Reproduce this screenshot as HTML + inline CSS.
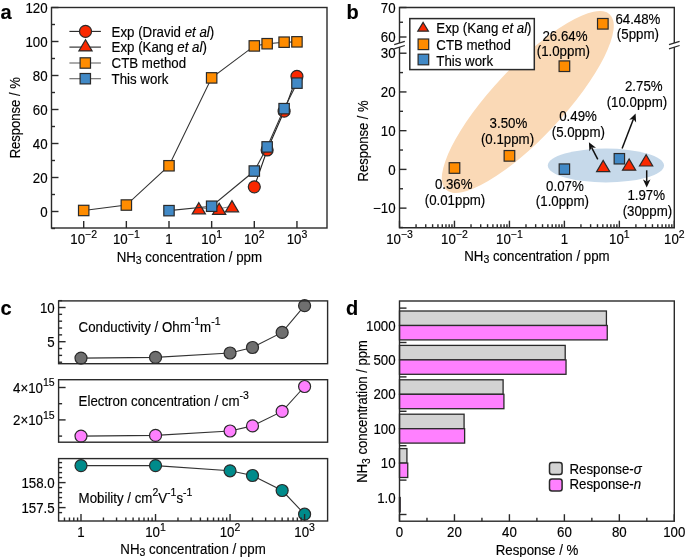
<!DOCTYPE html>
<html><head><meta charset="utf-8"><style>
html,body{margin:0;padding:0;background:#fff;}
svg{display:block;will-change:transform;}
text{font-family:"Liberation Sans",sans-serif;fill:#000;stroke:#000;stroke-width:0.15px;}
</style></head><body>
<svg width="685" height="557" viewBox="0 0 685 557">
<rect width="685" height="557" fill="#fff"/>
<text transform="translate(0.50 18.50) scale(1 1.04)" font-size="20" text-anchor="start" font-weight="bold">a</text>
<line x1="51.50" y1="228.50" x2="55.00" y2="228.50" stroke="#2a2a2a" stroke-width="1.4" />
<line x1="51.50" y1="211.50" x2="58.50" y2="211.50" stroke="#2a2a2a" stroke-width="1.4" />
<text transform="translate(47.60 216.60) scale(1 1.04)" font-size="13.3" text-anchor="end" >0</text>
<line x1="51.50" y1="194.50" x2="55.00" y2="194.50" stroke="#2a2a2a" stroke-width="1.4" />
<line x1="51.50" y1="177.50" x2="58.50" y2="177.50" stroke="#2a2a2a" stroke-width="1.4" />
<text transform="translate(47.60 182.60) scale(1 1.04)" font-size="13.3" text-anchor="end" >20</text>
<line x1="51.50" y1="160.50" x2="55.00" y2="160.50" stroke="#2a2a2a" stroke-width="1.4" />
<line x1="51.50" y1="143.50" x2="58.50" y2="143.50" stroke="#2a2a2a" stroke-width="1.4" />
<text transform="translate(47.60 148.60) scale(1 1.04)" font-size="13.3" text-anchor="end" >40</text>
<line x1="51.50" y1="126.50" x2="55.00" y2="126.50" stroke="#2a2a2a" stroke-width="1.4" />
<line x1="51.50" y1="109.50" x2="58.50" y2="109.50" stroke="#2a2a2a" stroke-width="1.4" />
<text transform="translate(47.60 114.60) scale(1 1.04)" font-size="13.3" text-anchor="end" >60</text>
<line x1="51.50" y1="92.50" x2="55.00" y2="92.50" stroke="#2a2a2a" stroke-width="1.4" />
<line x1="51.50" y1="75.50" x2="58.50" y2="75.50" stroke="#2a2a2a" stroke-width="1.4" />
<text transform="translate(47.60 80.60) scale(1 1.04)" font-size="13.3" text-anchor="end" >80</text>
<line x1="51.50" y1="58.50" x2="55.00" y2="58.50" stroke="#2a2a2a" stroke-width="1.4" />
<line x1="51.50" y1="41.50" x2="58.50" y2="41.50" stroke="#2a2a2a" stroke-width="1.4" />
<text transform="translate(47.60 46.60) scale(1 1.04)" font-size="13.3" text-anchor="end" >100</text>
<line x1="51.50" y1="24.50" x2="55.00" y2="24.50" stroke="#2a2a2a" stroke-width="1.4" />
<line x1="51.50" y1="7.50" x2="58.50" y2="7.50" stroke="#2a2a2a" stroke-width="1.4" />
<text transform="translate(47.60 12.60) scale(1 1.04)" font-size="13.3" text-anchor="end" >120</text>
<text transform="translate(0.00 0.50) scale(1 1.04)" font-size="13.3" text-anchor="start" ></text>
<line x1="83.70" y1="228.00" x2="83.70" y2="221.00" stroke="#2a2a2a" stroke-width="1.4" />
<text transform="translate(70.32 244.30) scale(1 1.04)" font-size="13.3" text-anchor="start" >10</text>
<text transform="translate(85.11 238.00) scale(1 1.04)" font-size="10.5" text-anchor="start" >−2</text>
<line x1="126.35" y1="228.00" x2="126.35" y2="221.00" stroke="#2a2a2a" stroke-width="1.4" />
<text transform="translate(112.97 244.30) scale(1 1.04)" font-size="13.3" text-anchor="start" >10</text>
<text transform="translate(127.76 238.00) scale(1 1.04)" font-size="10.5" text-anchor="start" >−1</text>
<line x1="169.00" y1="228.00" x2="169.00" y2="221.00" stroke="#2a2a2a" stroke-width="1.4" />
<text transform="translate(169.00 244.30) scale(1 1.04)" font-size="13.3" text-anchor="middle" >1</text>
<line x1="211.65" y1="228.00" x2="211.65" y2="221.00" stroke="#2a2a2a" stroke-width="1.4" />
<text transform="translate(201.33 244.30) scale(1 1.04)" font-size="13.3" text-anchor="start" >10</text>
<text transform="translate(216.13 238.00) scale(1 1.04)" font-size="10.5" text-anchor="start" >1</text>
<line x1="254.30" y1="228.00" x2="254.30" y2="221.00" stroke="#2a2a2a" stroke-width="1.4" />
<text transform="translate(243.98 244.30) scale(1 1.04)" font-size="13.3" text-anchor="start" >10</text>
<text transform="translate(258.78 238.00) scale(1 1.04)" font-size="10.5" text-anchor="start" >2</text>
<line x1="296.95" y1="228.00" x2="296.95" y2="221.00" stroke="#2a2a2a" stroke-width="1.4" />
<text transform="translate(286.63 244.30) scale(1 1.04)" font-size="13.3" text-anchor="start" >10</text>
<text transform="translate(301.43 238.00) scale(1 1.04)" font-size="10.5" text-anchor="start" >3</text>
<text transform="translate(19.9,117.8) rotate(-90) scale(0.98 1.04)" font-size="13.3" text-anchor="middle">Response / %</text>
<text transform="translate(116.63 261.50) scale(1 1.04)" font-size="13.3" text-anchor="start" >NH</text>
<text transform="translate(135.84 263.70) scale(1 1.04)" font-size="10.5" text-anchor="start" >3</text>
<text transform="translate(141.68 261.50) scale(1 1.04)" font-size="13.3" text-anchor="start" xml:space="preserve"> concentration / ppm</text>
<g>
<polyline points="254.30,186.85 267.14,149.96 284.11,111.20 296.95,76.35" fill="none" stroke="#222" stroke-width="1.1"/>
<circle cx="254.30" cy="186.85" r="6.00" fill="#fa2800" stroke="#2a2a2a" stroke-width="1.2"/>
<circle cx="267.14" cy="149.96" r="6.00" fill="#fa2800" stroke="#2a2a2a" stroke-width="1.2"/>
<circle cx="284.11" cy="111.20" r="6.00" fill="#fa2800" stroke="#2a2a2a" stroke-width="1.2"/>
<circle cx="296.95" cy="76.35" r="6.00" fill="#fa2800" stroke="#2a2a2a" stroke-width="1.2"/>
<polyline points="198.81,208.27 219.16,208.78 232.00,206.23" fill="none" stroke="#888" stroke-width="1.1"/>
<polygon points="198.81,202.67 192.21,213.87 205.41,213.87" fill="#fa2800" stroke="#2a2a2a" stroke-width="1.2" stroke-linejoin="miter"/>
<polygon points="219.16,203.18 212.56,214.38 225.76,214.38" fill="#fa2800" stroke="#2a2a2a" stroke-width="1.2" stroke-linejoin="miter"/>
<polygon points="232.00,200.63 225.40,211.83 238.60,211.83" fill="#fa2800" stroke="#2a2a2a" stroke-width="1.2" stroke-linejoin="miter"/>
<polyline points="83.70,210.48 126.35,205.04 169.00,165.77 211.65,77.88 254.30,45.92 267.14,43.71 284.11,42.18 296.95,41.84" fill="none" stroke="#333" stroke-width="1.1"/>
<rect x="78.50" y="205.28" width="10.40" height="10.40" fill="#ff8c00" stroke="#2a2a2a" stroke-width="1.2" />
<rect x="121.15" y="199.84" width="10.40" height="10.40" fill="#ff8c00" stroke="#2a2a2a" stroke-width="1.2" />
<rect x="163.80" y="160.57" width="10.40" height="10.40" fill="#ff8c00" stroke="#2a2a2a" stroke-width="1.2" />
<rect x="206.45" y="72.68" width="10.40" height="10.40" fill="#ff8c00" stroke="#2a2a2a" stroke-width="1.2" />
<rect x="249.10" y="40.72" width="10.40" height="10.40" fill="#ff8c00" stroke="#2a2a2a" stroke-width="1.2" />
<rect x="261.94" y="38.51" width="10.40" height="10.40" fill="#ff8c00" stroke="#2a2a2a" stroke-width="1.2" />
<rect x="278.91" y="36.98" width="10.40" height="10.40" fill="#ff8c00" stroke="#2a2a2a" stroke-width="1.2" />
<rect x="291.75" y="36.64" width="10.40" height="10.40" fill="#ff8c00" stroke="#2a2a2a" stroke-width="1.2" />
<polyline points="169.00,210.65 211.65,206.23 254.30,171.04 267.14,146.90 284.11,108.65 296.95,83.15" fill="none" stroke="#333" stroke-width="1.1"/>
<rect x="163.80" y="205.45" width="10.40" height="10.40" fill="#4189c6" stroke="#2a2a2a" stroke-width="1.2" />
<rect x="206.45" y="201.03" width="10.40" height="10.40" fill="#4189c6" stroke="#2a2a2a" stroke-width="1.2" />
<rect x="249.10" y="165.84" width="10.40" height="10.40" fill="#4189c6" stroke="#2a2a2a" stroke-width="1.2" />
<rect x="261.94" y="141.70" width="10.40" height="10.40" fill="#4189c6" stroke="#2a2a2a" stroke-width="1.2" />
<rect x="278.91" y="103.45" width="10.40" height="10.40" fill="#4189c6" stroke="#2a2a2a" stroke-width="1.2" />
<rect x="291.75" y="77.95" width="10.40" height="10.40" fill="#4189c6" stroke="#2a2a2a" stroke-width="1.2" />
</g>
<line x1="69.40" y1="31.40" x2="100.90" y2="31.40" stroke="#222" stroke-width="1.1" />
<circle cx="85.50" cy="31.40" r="6.00" fill="#fa2800" stroke="#2a2a2a" stroke-width="1.2"/>
<line x1="69.40" y1="47.10" x2="100.90" y2="47.10" stroke="#222" stroke-width="1.1" />
<polygon points="85.50,39.70 78.90,50.90 92.10,50.90" fill="#fa2800" stroke="#2a2a2a" stroke-width="1.2" stroke-linejoin="miter"/>
<line x1="69.40" y1="63.00" x2="100.90" y2="63.00" stroke="#666" stroke-width="1.1" />
<rect x="80.10" y="57.80" width="10.40" height="10.40" fill="#ff8c00" stroke="#2a2a2a" stroke-width="1.2" />
<line x1="69.40" y1="78.70" x2="100.90" y2="78.70" stroke="#666" stroke-width="1.1" />
<rect x="80.10" y="73.50" width="10.40" height="10.40" fill="#4189c6" stroke="#2a2a2a" stroke-width="1.2" />
<text transform="translate(111.60 36.60) scale(1 1.04)" font-size="13.3" >Exp (Dravid <tspan font-style="italic">et al</tspan>)</text>
<text transform="translate(111.60 52.30) scale(1 1.04)" font-size="13.3" >Exp (Kang <tspan font-style="italic">et al</tspan>)</text>
<text transform="translate(111.60 68.20) scale(1 1.04)" font-size="13.3" >CTB method</text>
<text transform="translate(111.60 83.90) scale(1 1.04)" font-size="13.3" >This work</text>
<rect x="51.50" y="7.50" width="275.50" height="220.50" fill="none" stroke="#2a2a2a" stroke-width="1.4" />
<text transform="translate(346.50 18.50) scale(1 1.04)" font-size="20" text-anchor="start" font-weight="bold">b</text>
<ellipse cx="527.8" cy="102.0" rx="120.0" ry="35.5" transform="rotate(-46.9 527.8 102.0)" fill="#fad9b6"/>
<ellipse cx="605.9" cy="165.5" rx="58.1" ry="16.9" fill="#c6d9ea"/>
<line x1="399.50" y1="227.50" x2="403.00" y2="227.50" stroke="#2a2a2a" stroke-width="1.4" />
<line x1="399.50" y1="208.13" x2="406.50" y2="208.13" stroke="#2a2a2a" stroke-width="1.4" />
<text transform="translate(395.60 213.23) scale(1 1.04)" font-size="13.3" text-anchor="end" >−10</text>
<line x1="399.50" y1="188.77" x2="403.00" y2="188.77" stroke="#2a2a2a" stroke-width="1.4" />
<line x1="399.50" y1="169.40" x2="406.50" y2="169.40" stroke="#2a2a2a" stroke-width="1.4" />
<text transform="translate(395.60 174.50) scale(1 1.04)" font-size="13.3" text-anchor="end" >0</text>
<line x1="399.50" y1="150.03" x2="403.00" y2="150.03" stroke="#2a2a2a" stroke-width="1.4" />
<line x1="399.50" y1="130.67" x2="406.50" y2="130.67" stroke="#2a2a2a" stroke-width="1.4" />
<text transform="translate(395.60 135.77) scale(1 1.04)" font-size="13.3" text-anchor="end" >10</text>
<line x1="399.50" y1="111.31" x2="403.00" y2="111.31" stroke="#2a2a2a" stroke-width="1.4" />
<line x1="399.50" y1="91.94" x2="406.50" y2="91.94" stroke="#2a2a2a" stroke-width="1.4" />
<text transform="translate(395.60 97.04) scale(1 1.04)" font-size="13.3" text-anchor="end" >20</text>
<line x1="399.50" y1="72.58" x2="403.00" y2="72.58" stroke="#2a2a2a" stroke-width="1.4" />
<line x1="399.50" y1="53.21" x2="406.50" y2="53.21" stroke="#2a2a2a" stroke-width="1.4" />
<text transform="translate(395.60 58.31) scale(1 1.04)" font-size="13.3" text-anchor="end" >30</text>
<line x1="399.50" y1="37.00" x2="406.50" y2="37.00" stroke="#2a2a2a" stroke-width="1.4" />
<text transform="translate(395.60 42.10) scale(1 1.04)" font-size="13.3" text-anchor="end" >60</text>
<line x1="399.50" y1="22.25" x2="403.00" y2="22.25" stroke="#2a2a2a" stroke-width="1.4" />
<line x1="399.50" y1="7.50" x2="406.50" y2="7.50" stroke="#2a2a2a" stroke-width="1.4" />
<text transform="translate(395.60 12.60) scale(1 1.04)" font-size="13.3" text-anchor="end" >70</text>
<line x1="399.52" y1="227.70" x2="399.52" y2="220.70" stroke="#2a2a2a" stroke-width="1.4" />
<text transform="translate(386.14 244.30) scale(1 1.04)" font-size="13.3" text-anchor="start" >10</text>
<text transform="translate(400.93 238.00) scale(1 1.04)" font-size="10.5" text-anchor="start" >−3</text>
<line x1="416.06" y1="227.70" x2="416.06" y2="224.20" stroke="#2a2a2a" stroke-width="1.4" />
<line x1="425.74" y1="227.70" x2="425.74" y2="224.20" stroke="#2a2a2a" stroke-width="1.4" />
<line x1="432.61" y1="227.70" x2="432.61" y2="224.20" stroke="#2a2a2a" stroke-width="1.4" />
<line x1="437.94" y1="227.70" x2="437.94" y2="224.20" stroke="#2a2a2a" stroke-width="1.4" />
<line x1="442.29" y1="227.70" x2="442.29" y2="224.20" stroke="#2a2a2a" stroke-width="1.4" />
<line x1="445.97" y1="227.70" x2="445.97" y2="224.20" stroke="#2a2a2a" stroke-width="1.4" />
<line x1="449.15" y1="227.70" x2="449.15" y2="224.20" stroke="#2a2a2a" stroke-width="1.4" />
<line x1="451.97" y1="227.70" x2="451.97" y2="224.20" stroke="#2a2a2a" stroke-width="1.4" />
<line x1="454.48" y1="227.70" x2="454.48" y2="220.70" stroke="#2a2a2a" stroke-width="1.4" />
<text transform="translate(441.10 244.30) scale(1 1.04)" font-size="13.3" text-anchor="start" >10</text>
<text transform="translate(455.89 238.00) scale(1 1.04)" font-size="10.5" text-anchor="start" >−2</text>
<line x1="471.02" y1="227.70" x2="471.02" y2="224.20" stroke="#2a2a2a" stroke-width="1.4" />
<line x1="480.70" y1="227.70" x2="480.70" y2="224.20" stroke="#2a2a2a" stroke-width="1.4" />
<line x1="487.57" y1="227.70" x2="487.57" y2="224.20" stroke="#2a2a2a" stroke-width="1.4" />
<line x1="492.90" y1="227.70" x2="492.90" y2="224.20" stroke="#2a2a2a" stroke-width="1.4" />
<line x1="497.25" y1="227.70" x2="497.25" y2="224.20" stroke="#2a2a2a" stroke-width="1.4" />
<line x1="500.93" y1="227.70" x2="500.93" y2="224.20" stroke="#2a2a2a" stroke-width="1.4" />
<line x1="504.11" y1="227.70" x2="504.11" y2="224.20" stroke="#2a2a2a" stroke-width="1.4" />
<line x1="506.93" y1="227.70" x2="506.93" y2="224.20" stroke="#2a2a2a" stroke-width="1.4" />
<line x1="509.44" y1="227.70" x2="509.44" y2="220.70" stroke="#2a2a2a" stroke-width="1.4" />
<text transform="translate(496.06 244.30) scale(1 1.04)" font-size="13.3" text-anchor="start" >10</text>
<text transform="translate(510.85 238.00) scale(1 1.04)" font-size="10.5" text-anchor="start" >−1</text>
<line x1="525.98" y1="227.70" x2="525.98" y2="224.20" stroke="#2a2a2a" stroke-width="1.4" />
<line x1="535.66" y1="227.70" x2="535.66" y2="224.20" stroke="#2a2a2a" stroke-width="1.4" />
<line x1="542.53" y1="227.70" x2="542.53" y2="224.20" stroke="#2a2a2a" stroke-width="1.4" />
<line x1="547.86" y1="227.70" x2="547.86" y2="224.20" stroke="#2a2a2a" stroke-width="1.4" />
<line x1="552.21" y1="227.70" x2="552.21" y2="224.20" stroke="#2a2a2a" stroke-width="1.4" />
<line x1="555.89" y1="227.70" x2="555.89" y2="224.20" stroke="#2a2a2a" stroke-width="1.4" />
<line x1="559.07" y1="227.70" x2="559.07" y2="224.20" stroke="#2a2a2a" stroke-width="1.4" />
<line x1="561.89" y1="227.70" x2="561.89" y2="224.20" stroke="#2a2a2a" stroke-width="1.4" />
<line x1="564.40" y1="227.70" x2="564.40" y2="220.70" stroke="#2a2a2a" stroke-width="1.4" />
<text transform="translate(564.40 244.30) scale(1 1.04)" font-size="13.3" text-anchor="middle" >1</text>
<line x1="580.94" y1="227.70" x2="580.94" y2="224.20" stroke="#2a2a2a" stroke-width="1.4" />
<line x1="590.62" y1="227.70" x2="590.62" y2="224.20" stroke="#2a2a2a" stroke-width="1.4" />
<line x1="597.49" y1="227.70" x2="597.49" y2="224.20" stroke="#2a2a2a" stroke-width="1.4" />
<line x1="602.82" y1="227.70" x2="602.82" y2="224.20" stroke="#2a2a2a" stroke-width="1.4" />
<line x1="607.17" y1="227.70" x2="607.17" y2="224.20" stroke="#2a2a2a" stroke-width="1.4" />
<line x1="610.85" y1="227.70" x2="610.85" y2="224.20" stroke="#2a2a2a" stroke-width="1.4" />
<line x1="614.03" y1="227.70" x2="614.03" y2="224.20" stroke="#2a2a2a" stroke-width="1.4" />
<line x1="616.85" y1="227.70" x2="616.85" y2="224.20" stroke="#2a2a2a" stroke-width="1.4" />
<line x1="619.36" y1="227.70" x2="619.36" y2="220.70" stroke="#2a2a2a" stroke-width="1.4" />
<text transform="translate(609.04 244.30) scale(1 1.04)" font-size="13.3" text-anchor="start" >10</text>
<text transform="translate(623.84 238.00) scale(1 1.04)" font-size="10.5" text-anchor="start" >1</text>
<line x1="635.90" y1="227.70" x2="635.90" y2="224.20" stroke="#2a2a2a" stroke-width="1.4" />
<line x1="645.58" y1="227.70" x2="645.58" y2="224.20" stroke="#2a2a2a" stroke-width="1.4" />
<line x1="652.45" y1="227.70" x2="652.45" y2="224.20" stroke="#2a2a2a" stroke-width="1.4" />
<line x1="657.78" y1="227.70" x2="657.78" y2="224.20" stroke="#2a2a2a" stroke-width="1.4" />
<line x1="662.13" y1="227.70" x2="662.13" y2="224.20" stroke="#2a2a2a" stroke-width="1.4" />
<line x1="665.81" y1="227.70" x2="665.81" y2="224.20" stroke="#2a2a2a" stroke-width="1.4" />
<line x1="668.99" y1="227.70" x2="668.99" y2="224.20" stroke="#2a2a2a" stroke-width="1.4" />
<line x1="671.81" y1="227.70" x2="671.81" y2="224.20" stroke="#2a2a2a" stroke-width="1.4" />
<line x1="674.32" y1="227.70" x2="674.32" y2="220.70" stroke="#2a2a2a" stroke-width="1.4" />
<text transform="translate(664.00 244.30) scale(1 1.04)" font-size="13.3" text-anchor="start" >10</text>
<text transform="translate(678.80 238.00) scale(1 1.04)" font-size="10.5" text-anchor="start" >2</text>
<text transform="translate(368.2,140.9) rotate(-90) scale(0.98 1.04)" font-size="13.3" text-anchor="middle">Response / %</text>
<text transform="translate(464.23 261.10) scale(1 1.04)" font-size="13.3" text-anchor="start" >NH</text>
<text transform="translate(483.44 263.30) scale(1 1.04)" font-size="10.5" text-anchor="start" >3</text>
<text transform="translate(489.28 261.10) scale(1 1.04)" font-size="13.3" text-anchor="start" xml:space="preserve"> concentration / ppm</text>
<polyline points="399.5,43 399.5,7.5 674.3,7.5 674.3,43" fill="none" stroke="#2a2a2a" stroke-width="1.4"/>
<polyline points="399.5,47 399.5,227.7 674.3,227.7 674.3,47" fill="none" stroke="#2a2a2a" stroke-width="1.4"/>
<line x1="394.20" y1="44.60" x2="404.80" y2="41.30" stroke="#2a2a2a" stroke-width="1.3" />
<line x1="394.20" y1="48.80" x2="404.80" y2="45.50" stroke="#2a2a2a" stroke-width="1.3" />
<line x1="669.00" y1="44.60" x2="679.60" y2="41.30" stroke="#2a2a2a" stroke-width="1.3" />
<line x1="669.00" y1="48.80" x2="679.60" y2="45.50" stroke="#2a2a2a" stroke-width="1.3" />
<rect x="449.18" y="162.71" width="10.60" height="10.60" fill="#ff8c00" stroke="#2a2a2a" stroke-width="1.2" />
<rect x="504.14" y="150.54" width="10.60" height="10.60" fill="#ff8c00" stroke="#2a2a2a" stroke-width="1.2" />
<rect x="559.10" y="60.92" width="10.60" height="10.60" fill="#ff8c00" stroke="#2a2a2a" stroke-width="1.2" />
<rect x="597.52" y="18.48" width="10.60" height="10.60" fill="#ff8c00" stroke="#2a2a2a" stroke-width="1.2" />
<rect x="559.20" y="163.93" width="10.40" height="10.40" fill="#4189c6" stroke="#2a2a2a" stroke-width="1.2" />
<rect x="614.16" y="153.55" width="10.40" height="10.40" fill="#4189c6" stroke="#2a2a2a" stroke-width="1.2" />
<polygon points="603.20,160.40 596.60,171.60 609.80,171.60" fill="#fa2800" stroke="#2a2a2a" stroke-width="1.2" stroke-linejoin="miter"/>
<polygon points="629.10,159.00 622.50,170.20 635.70,170.20" fill="#fa2800" stroke="#2a2a2a" stroke-width="1.2" stroke-linejoin="miter"/>
<polygon points="646.10,154.80 639.50,166.00 652.70,166.00" fill="#fa2800" stroke="#2a2a2a" stroke-width="1.2" stroke-linejoin="miter"/>
<line x1="597.80" y1="159.30" x2="591.68" y2="147.62" stroke="#111" stroke-width="1.5" />
<polygon points="588.90,142.30 595.98,147.85 591.68,147.62 589.43,151.28" fill="#111"/>
<line x1="622.10" y1="148.50" x2="633.44" y2="119.10" stroke="#111" stroke-width="1.5" />
<polygon points="635.60,113.50 636.10,122.48 633.44,119.10 629.20,119.82" fill="#111"/>
<line x1="646.70" y1="170.30" x2="646.70" y2="181.60" stroke="#111" stroke-width="1.5" />
<polygon points="646.70,187.60 643.00,179.40 646.70,181.60 650.40,179.40" fill="#111"/>
<text transform="translate(637.90 24.20) scale(1 1.04)" font-size="13.3" text-anchor="middle" >64.48%</text>
<text transform="translate(637.90 39.20) scale(1 1.04)" font-size="13.3" text-anchor="middle" >(5ppm)</text>
<text transform="translate(565.00 41.30) scale(1 1.04)" font-size="13.3" text-anchor="middle" >26.64%</text>
<text transform="translate(563.30 55.80) scale(1 1.04)" font-size="13.3" text-anchor="middle" >(1.0ppm)</text>
<text transform="translate(643.80 91.30) scale(1 1.04)" font-size="13.3" text-anchor="middle" >2.75%</text>
<text transform="translate(636.90 107.20) scale(1 1.04)" font-size="13.3" text-anchor="middle" >(10.0ppm)</text>
<text transform="translate(578.00 121.30) scale(1 1.04)" font-size="13.3" text-anchor="middle" >0.49%</text>
<text transform="translate(578.30 136.80) scale(1 1.04)" font-size="13.3" text-anchor="middle" >(5.0ppm)</text>
<text transform="translate(508.40 127.50) scale(1 1.04)" font-size="13.3" text-anchor="middle" >3.50%</text>
<text transform="translate(507.50 143.50) scale(1 1.04)" font-size="13.3" text-anchor="middle" >(0.1ppm)</text>
<text transform="translate(453.70 189.40) scale(1 1.04)" font-size="13.3" text-anchor="middle" >0.36%</text>
<text transform="translate(455.00 205.40) scale(1 1.04)" font-size="13.3" text-anchor="middle" >(0.01ppm)</text>
<text transform="translate(564.90 191.20) scale(1 1.04)" font-size="13.3" text-anchor="middle" >0.07%</text>
<text transform="translate(562.40 206.20) scale(1 1.04)" font-size="13.3" text-anchor="middle" >(1.0ppm)</text>
<text transform="translate(646.20 200.20) scale(1 1.04)" font-size="13.3" text-anchor="middle" >1.97%</text>
<text transform="translate(647.40 215.50) scale(1 1.04)" font-size="13.3" text-anchor="middle" >(30ppm)</text>
<rect x="409.80" y="18.60" width="124.50" height="51.00" fill="#ffffff" stroke="#2a2a2a" stroke-width="1.5" />
<polygon points="423.10,22.40 417.80,31.20 428.40,31.20" fill="#fa2800" stroke="#2a2a2a" stroke-width="1.2" stroke-linejoin="miter"/>
<rect x="418.10" y="39.00" width="10.60" height="10.60" fill="#ff8c00" stroke="#2a2a2a" stroke-width="1.2" />
<rect x="418.10" y="54.20" width="10.60" height="10.60" fill="#4189c6" stroke="#2a2a2a" stroke-width="1.2" />
<text transform="translate(436.30 32.80) scale(1 1.04)" font-size="13.3" >Exp (Kang <tspan font-style="italic">et al</tspan>)</text>
<text transform="translate(436.30 49.50) scale(1 1.04)" font-size="13.3" >CTB method</text>
<text transform="translate(436.30 65.60) scale(1 1.04)" font-size="13.3" >This work</text>
<text transform="translate(0.50 315.00) scale(1 1.04)" font-size="20" text-anchor="start" font-weight="bold">c</text>
<line x1="58.60" y1="362.22" x2="62.10" y2="362.22" stroke="#2a2a2a" stroke-width="1.4" />
<line x1="58.60" y1="355.38" x2="62.10" y2="355.38" stroke="#2a2a2a" stroke-width="1.4" />
<line x1="58.60" y1="348.54" x2="62.10" y2="348.54" stroke="#2a2a2a" stroke-width="1.4" />
<line x1="58.60" y1="341.70" x2="65.60" y2="341.70" stroke="#2a2a2a" stroke-width="1.4" />
<text transform="translate(54.70 346.80) scale(1 1.04)" font-size="13.3" text-anchor="end" >5</text>
<line x1="58.60" y1="334.86" x2="62.10" y2="334.86" stroke="#2a2a2a" stroke-width="1.4" />
<line x1="58.60" y1="328.02" x2="62.10" y2="328.02" stroke="#2a2a2a" stroke-width="1.4" />
<line x1="58.60" y1="321.18" x2="62.10" y2="321.18" stroke="#2a2a2a" stroke-width="1.4" />
<line x1="58.60" y1="314.34" x2="62.10" y2="314.34" stroke="#2a2a2a" stroke-width="1.4" />
<line x1="58.60" y1="307.50" x2="65.60" y2="307.50" stroke="#2a2a2a" stroke-width="1.4" />
<text transform="translate(54.70 312.60) scale(1 1.04)" font-size="13.3" text-anchor="end" >10</text>
<line x1="58.60" y1="300.66" x2="62.10" y2="300.66" stroke="#2a2a2a" stroke-width="1.4" />
<polyline points="81.00,358.10 155.53,357.40 230.06,353.00 252.50,347.50 282.15,332.40 304.59,305.70" fill="none" stroke="#333" stroke-width="1.1"/>
<circle cx="81.00" cy="358.10" r="6.00" fill="#6f6f6f" stroke="#2a2a2a" stroke-width="1.2"/>
<circle cx="155.53" cy="357.40" r="6.00" fill="#6f6f6f" stroke="#2a2a2a" stroke-width="1.2"/>
<circle cx="230.06" cy="353.00" r="6.00" fill="#6f6f6f" stroke="#2a2a2a" stroke-width="1.2"/>
<circle cx="252.50" cy="347.50" r="6.00" fill="#6f6f6f" stroke="#2a2a2a" stroke-width="1.2"/>
<circle cx="282.15" cy="332.40" r="6.00" fill="#6f6f6f" stroke="#2a2a2a" stroke-width="1.2"/>
<circle cx="304.59" cy="305.70" r="6.00" fill="#6f6f6f" stroke="#2a2a2a" stroke-width="1.2"/>
<text transform="translate(78.60 332.00) scale(1 1.04)" font-size="13.3" >Conductivity / Ohm<tspan font-size="10.5" dy="-6.3">-1</tspan><tspan dy="6.3">m</tspan><tspan font-size="10.5" dy="-6.3">-1</tspan></text>
<rect x="58.60" y="300.90" width="269.00" height="62.80" fill="none" stroke="#2a2a2a" stroke-width="1.4" />
<line x1="58.60" y1="436.10" x2="62.10" y2="436.10" stroke="#2a2a2a" stroke-width="1.4" />
<line x1="58.60" y1="419.90" x2="65.60" y2="419.90" stroke="#2a2a2a" stroke-width="1.4" />
<text transform="translate(13.07 425.00) scale(1 1.04)" font-size="13.3" text-anchor="start" >2×10</text>
<text transform="translate(43.02 418.70) scale(1 1.04)" font-size="10.5" text-anchor="start" >15</text>
<line x1="58.60" y1="403.70" x2="62.10" y2="403.70" stroke="#2a2a2a" stroke-width="1.4" />
<line x1="58.60" y1="387.50" x2="65.60" y2="387.50" stroke="#2a2a2a" stroke-width="1.4" />
<text transform="translate(13.07 392.60) scale(1 1.04)" font-size="13.3" text-anchor="start" >4×10</text>
<text transform="translate(43.02 386.30) scale(1 1.04)" font-size="10.5" text-anchor="start" >15</text>
<polyline points="81.00,436.10 155.53,435.40 230.06,431.00 252.50,425.90 282.15,411.40 304.59,386.50" fill="none" stroke="#333" stroke-width="1.1"/>
<circle cx="81.00" cy="436.10" r="6.00" fill="#ff80ff" stroke="#2a2a2a" stroke-width="1.2"/>
<circle cx="155.53" cy="435.40" r="6.00" fill="#ff80ff" stroke="#2a2a2a" stroke-width="1.2"/>
<circle cx="230.06" cy="431.00" r="6.00" fill="#ff80ff" stroke="#2a2a2a" stroke-width="1.2"/>
<circle cx="252.50" cy="425.90" r="6.00" fill="#ff80ff" stroke="#2a2a2a" stroke-width="1.2"/>
<circle cx="282.15" cy="411.40" r="6.00" fill="#ff80ff" stroke="#2a2a2a" stroke-width="1.2"/>
<circle cx="304.59" cy="386.50" r="6.00" fill="#ff80ff" stroke="#2a2a2a" stroke-width="1.2"/>
<text transform="translate(78.60 405.90) scale(1 1.04)" font-size="13.3" >Electron concentration / cm<tspan font-size="10.5" dy="-6.3">-3</tspan></text>
<rect x="58.60" y="379.70" width="269.00" height="62.50" fill="none" stroke="#2a2a2a" stroke-width="1.4" />
<line x1="58.60" y1="512.60" x2="62.10" y2="512.60" stroke="#2a2a2a" stroke-width="1.4" />
<line x1="58.60" y1="507.60" x2="65.60" y2="507.60" stroke="#2a2a2a" stroke-width="1.4" />
<text transform="translate(54.70 512.70) scale(1 1.04)" font-size="13.3" text-anchor="end" >157.5</text>
<line x1="58.60" y1="502.60" x2="62.10" y2="502.60" stroke="#2a2a2a" stroke-width="1.4" />
<line x1="58.60" y1="497.60" x2="62.10" y2="497.60" stroke="#2a2a2a" stroke-width="1.4" />
<line x1="58.60" y1="492.60" x2="62.10" y2="492.60" stroke="#2a2a2a" stroke-width="1.4" />
<line x1="58.60" y1="487.60" x2="62.10" y2="487.60" stroke="#2a2a2a" stroke-width="1.4" />
<line x1="58.60" y1="482.60" x2="65.60" y2="482.60" stroke="#2a2a2a" stroke-width="1.4" />
<text transform="translate(54.70 487.70) scale(1 1.04)" font-size="13.3" text-anchor="end" >158.0</text>
<line x1="58.60" y1="477.60" x2="62.10" y2="477.60" stroke="#2a2a2a" stroke-width="1.4" />
<line x1="58.60" y1="472.60" x2="62.10" y2="472.60" stroke="#2a2a2a" stroke-width="1.4" />
<line x1="58.60" y1="467.60" x2="62.10" y2="467.60" stroke="#2a2a2a" stroke-width="1.4" />
<line x1="58.60" y1="462.60" x2="62.10" y2="462.60" stroke="#2a2a2a" stroke-width="1.4" />
<polyline points="81.00,465.60 155.53,465.60 230.06,470.80 252.50,475.50 282.15,490.50 304.59,514.20" fill="none" stroke="#333" stroke-width="1.1"/>
<circle cx="81.00" cy="465.60" r="6.00" fill="#008b8b" stroke="#2a2a2a" stroke-width="1.2"/>
<circle cx="155.53" cy="465.60" r="6.00" fill="#008b8b" stroke="#2a2a2a" stroke-width="1.2"/>
<circle cx="230.06" cy="470.80" r="6.00" fill="#008b8b" stroke="#2a2a2a" stroke-width="1.2"/>
<circle cx="252.50" cy="475.50" r="6.00" fill="#008b8b" stroke="#2a2a2a" stroke-width="1.2"/>
<circle cx="282.15" cy="490.50" r="6.00" fill="#008b8b" stroke="#2a2a2a" stroke-width="1.2"/>
<circle cx="304.59" cy="514.20" r="6.00" fill="#008b8b" stroke="#2a2a2a" stroke-width="1.2"/>
<text transform="translate(78.60 502.50) scale(1 1.04)" font-size="13.3" >Mobility / cm<tspan font-size="10.5" dy="-6.3">2</tspan><tspan dy="6.3">V</tspan><tspan font-size="10.5" dy="-6.3">-1</tspan><tspan dy="6.3">s</tspan><tspan font-size="10.5" dy="-6.3">-1</tspan></text>
<line x1="81.00" y1="521.00" x2="81.00" y2="514.00" stroke="#2a2a2a" stroke-width="1.4" />
<text transform="translate(81.00 537.20) scale(1 1.04)" font-size="13.3" text-anchor="middle" >1</text>
<line x1="155.53" y1="521.00" x2="155.53" y2="514.00" stroke="#2a2a2a" stroke-width="1.4" />
<text transform="translate(145.21 537.20) scale(1 1.04)" font-size="13.3" text-anchor="start" >10</text>
<text transform="translate(160.01 530.90) scale(1 1.04)" font-size="10.5" text-anchor="start" >1</text>
<line x1="230.06" y1="521.00" x2="230.06" y2="514.00" stroke="#2a2a2a" stroke-width="1.4" />
<text transform="translate(219.74 537.20) scale(1 1.04)" font-size="13.3" text-anchor="start" >10</text>
<text transform="translate(234.54 530.90) scale(1 1.04)" font-size="10.5" text-anchor="start" >2</text>
<line x1="304.59" y1="521.00" x2="304.59" y2="514.00" stroke="#2a2a2a" stroke-width="1.4" />
<text transform="translate(294.27 537.20) scale(1 1.04)" font-size="13.3" text-anchor="start" >10</text>
<text transform="translate(309.07 530.90) scale(1 1.04)" font-size="10.5" text-anchor="start" >3</text>
<line x1="64.47" y1="521.00" x2="64.47" y2="517.50" stroke="#2a2a2a" stroke-width="1.4" />
<line x1="69.46" y1="521.00" x2="69.46" y2="517.50" stroke="#2a2a2a" stroke-width="1.4" />
<line x1="73.78" y1="521.00" x2="73.78" y2="517.50" stroke="#2a2a2a" stroke-width="1.4" />
<line x1="77.59" y1="521.00" x2="77.59" y2="517.50" stroke="#2a2a2a" stroke-width="1.4" />
<line x1="103.44" y1="521.00" x2="103.44" y2="517.50" stroke="#2a2a2a" stroke-width="1.4" />
<line x1="116.56" y1="521.00" x2="116.56" y2="517.50" stroke="#2a2a2a" stroke-width="1.4" />
<line x1="125.87" y1="521.00" x2="125.87" y2="517.50" stroke="#2a2a2a" stroke-width="1.4" />
<line x1="133.09" y1="521.00" x2="133.09" y2="517.50" stroke="#2a2a2a" stroke-width="1.4" />
<line x1="139.00" y1="521.00" x2="139.00" y2="517.50" stroke="#2a2a2a" stroke-width="1.4" />
<line x1="143.99" y1="521.00" x2="143.99" y2="517.50" stroke="#2a2a2a" stroke-width="1.4" />
<line x1="148.31" y1="521.00" x2="148.31" y2="517.50" stroke="#2a2a2a" stroke-width="1.4" />
<line x1="152.12" y1="521.00" x2="152.12" y2="517.50" stroke="#2a2a2a" stroke-width="1.4" />
<line x1="177.97" y1="521.00" x2="177.97" y2="517.50" stroke="#2a2a2a" stroke-width="1.4" />
<line x1="191.09" y1="521.00" x2="191.09" y2="517.50" stroke="#2a2a2a" stroke-width="1.4" />
<line x1="200.40" y1="521.00" x2="200.40" y2="517.50" stroke="#2a2a2a" stroke-width="1.4" />
<line x1="207.62" y1="521.00" x2="207.62" y2="517.50" stroke="#2a2a2a" stroke-width="1.4" />
<line x1="213.53" y1="521.00" x2="213.53" y2="517.50" stroke="#2a2a2a" stroke-width="1.4" />
<line x1="218.52" y1="521.00" x2="218.52" y2="517.50" stroke="#2a2a2a" stroke-width="1.4" />
<line x1="222.84" y1="521.00" x2="222.84" y2="517.50" stroke="#2a2a2a" stroke-width="1.4" />
<line x1="226.65" y1="521.00" x2="226.65" y2="517.50" stroke="#2a2a2a" stroke-width="1.4" />
<line x1="252.50" y1="521.00" x2="252.50" y2="517.50" stroke="#2a2a2a" stroke-width="1.4" />
<line x1="265.62" y1="521.00" x2="265.62" y2="517.50" stroke="#2a2a2a" stroke-width="1.4" />
<line x1="274.93" y1="521.00" x2="274.93" y2="517.50" stroke="#2a2a2a" stroke-width="1.4" />
<line x1="282.15" y1="521.00" x2="282.15" y2="517.50" stroke="#2a2a2a" stroke-width="1.4" />
<line x1="288.06" y1="521.00" x2="288.06" y2="517.50" stroke="#2a2a2a" stroke-width="1.4" />
<line x1="293.05" y1="521.00" x2="293.05" y2="517.50" stroke="#2a2a2a" stroke-width="1.4" />
<line x1="297.37" y1="521.00" x2="297.37" y2="517.50" stroke="#2a2a2a" stroke-width="1.4" />
<line x1="301.18" y1="521.00" x2="301.18" y2="517.50" stroke="#2a2a2a" stroke-width="1.4" />
<rect x="58.60" y="458.60" width="269.00" height="62.40" fill="none" stroke="#2a2a2a" stroke-width="1.4" />
<text transform="translate(120.33 554.00) scale(1 1.04)" font-size="13.3" text-anchor="start" >NH</text>
<text transform="translate(139.54 556.20) scale(1 1.04)" font-size="10.5" text-anchor="start" >3</text>
<text transform="translate(145.38 554.00) scale(1 1.04)" font-size="13.3" text-anchor="start" xml:space="preserve"> concentration / ppm</text>
<text transform="translate(346.00 314.70) scale(1 1.04)" font-size="20" text-anchor="start" font-weight="bold">d</text>
<line x1="399.50" y1="308.10" x2="406.50" y2="308.10" stroke="#2a2a2a" stroke-width="1.4" />
<line x1="399.50" y1="342.50" x2="406.50" y2="342.50" stroke="#2a2a2a" stroke-width="1.4" />
<line x1="399.50" y1="376.90" x2="406.50" y2="376.90" stroke="#2a2a2a" stroke-width="1.4" />
<line x1="399.50" y1="411.30" x2="406.50" y2="411.30" stroke="#2a2a2a" stroke-width="1.4" />
<line x1="399.50" y1="445.70" x2="406.50" y2="445.70" stroke="#2a2a2a" stroke-width="1.4" />
<line x1="399.50" y1="480.10" x2="406.50" y2="480.10" stroke="#2a2a2a" stroke-width="1.4" />
<line x1="399.50" y1="514.50" x2="406.50" y2="514.50" stroke="#2a2a2a" stroke-width="1.4" />
<text transform="translate(395.60 330.60) scale(1 1.04)" font-size="13.3" text-anchor="end" >1000</text>
<rect x="399.50" y="311.00" width="206.92" height="14.50" fill="#d3d3d3" stroke="#2a2a2a" stroke-width="1.3" />
<rect x="399.50" y="325.50" width="207.75" height="14.40" fill="#ff80ff" stroke="#2a2a2a" stroke-width="1.3" />
<text transform="translate(395.60 365.00) scale(1 1.04)" font-size="13.3" text-anchor="end" >500</text>
<rect x="399.50" y="345.40" width="165.70" height="14.50" fill="#d3d3d3" stroke="#2a2a2a" stroke-width="1.3" />
<rect x="399.50" y="359.90" width="166.53" height="14.40" fill="#ff80ff" stroke="#2a2a2a" stroke-width="1.3" />
<text transform="translate(395.60 399.40) scale(1 1.04)" font-size="13.3" text-anchor="end" >200</text>
<rect x="399.50" y="379.80" width="103.60" height="14.50" fill="#d3d3d3" stroke="#2a2a2a" stroke-width="1.3" />
<rect x="399.50" y="394.30" width="104.42" height="14.40" fill="#ff80ff" stroke="#2a2a2a" stroke-width="1.3" />
<text transform="translate(395.60 433.80) scale(1 1.04)" font-size="13.3" text-anchor="end" >100</text>
<rect x="399.50" y="414.20" width="64.58" height="14.50" fill="#d3d3d3" stroke="#2a2a2a" stroke-width="1.3" />
<rect x="399.50" y="428.70" width="65.13" height="14.40" fill="#ff80ff" stroke="#2a2a2a" stroke-width="1.3" />
<text transform="translate(395.60 468.20) scale(1 1.04)" font-size="13.3" text-anchor="end" >10</text>
<rect x="399.50" y="448.60" width="7.42" height="14.50" fill="#d3d3d3" stroke="#2a2a2a" stroke-width="1.3" />
<rect x="399.50" y="463.10" width="8.24" height="14.40" fill="#ff80ff" stroke="#2a2a2a" stroke-width="1.3" />
<text transform="translate(395.60 502.60) scale(1 1.04)" font-size="13.3" text-anchor="end" >1.0</text>
<rect x="399.50" y="497.50" width="0.69" height="14.40" fill="#ff80ff" stroke="#2a2a2a" stroke-width="1.3" />
<line x1="399.50" y1="521.20" x2="399.50" y2="514.20" stroke="#2a2a2a" stroke-width="1.4" />
<text transform="translate(399.50 537.30) scale(1 1.04)" font-size="13.3" text-anchor="middle" >0</text>
<line x1="426.98" y1="521.20" x2="426.98" y2="517.70" stroke="#2a2a2a" stroke-width="1.4" />
<line x1="454.46" y1="521.20" x2="454.46" y2="514.20" stroke="#2a2a2a" stroke-width="1.4" />
<text transform="translate(454.46 537.30) scale(1 1.04)" font-size="13.3" text-anchor="middle" >20</text>
<line x1="481.94" y1="521.20" x2="481.94" y2="517.70" stroke="#2a2a2a" stroke-width="1.4" />
<line x1="509.42" y1="521.20" x2="509.42" y2="514.20" stroke="#2a2a2a" stroke-width="1.4" />
<text transform="translate(509.42 537.30) scale(1 1.04)" font-size="13.3" text-anchor="middle" >40</text>
<line x1="536.90" y1="521.20" x2="536.90" y2="517.70" stroke="#2a2a2a" stroke-width="1.4" />
<line x1="564.38" y1="521.20" x2="564.38" y2="514.20" stroke="#2a2a2a" stroke-width="1.4" />
<text transform="translate(564.38 537.30) scale(1 1.04)" font-size="13.3" text-anchor="middle" >60</text>
<line x1="591.86" y1="521.20" x2="591.86" y2="517.70" stroke="#2a2a2a" stroke-width="1.4" />
<line x1="619.34" y1="521.20" x2="619.34" y2="514.20" stroke="#2a2a2a" stroke-width="1.4" />
<text transform="translate(619.34 537.30) scale(1 1.04)" font-size="13.3" text-anchor="middle" >80</text>
<line x1="646.82" y1="521.20" x2="646.82" y2="517.70" stroke="#2a2a2a" stroke-width="1.4" />
<line x1="674.30" y1="521.20" x2="674.30" y2="514.20" stroke="#2a2a2a" stroke-width="1.4" />
<text transform="translate(674.30 537.30) scale(1 1.04)" font-size="13.3" text-anchor="middle" >100</text>
<text transform="translate(537.00 554.70) scale(1 1.04)" font-size="13.3" text-anchor="middle" >Response / %</text>
<g transform="translate(367.4,411.4) rotate(-90)"><text x="-72.77" y="0" font-size="13.3" transform="scale(0.98 1.04)">NH<tspan font-size="10.5" dy="2.2">3</tspan><tspan dy="-2.2" xml:space="preserve"> concentration / ppm</tspan></text></g>
<rect x="549.5" y="462.6" width="12.6" height="11.9" rx="2.5" fill="#d3d3d3" stroke="#2a2a2a" stroke-width="1.5"/>
<rect x="549.5" y="479.1" width="12.6" height="11.9" rx="2.5" fill="#ff80ff" stroke="#2a2a2a" stroke-width="1.5"/>
<text transform="translate(569.50 473.60) scale(1 1.04)" font-size="13.3" >Response-<tspan font-style="italic">σ</tspan></text>
<text transform="translate(569.50 489.40) scale(1 1.04)" font-size="13.3" >Response-<tspan font-style="italic">n</tspan></text>
<rect x="399.50" y="301.00" width="274.80" height="220.20" fill="none" stroke="#2a2a2a" stroke-width="1.4" />
</svg>
</body></html>
